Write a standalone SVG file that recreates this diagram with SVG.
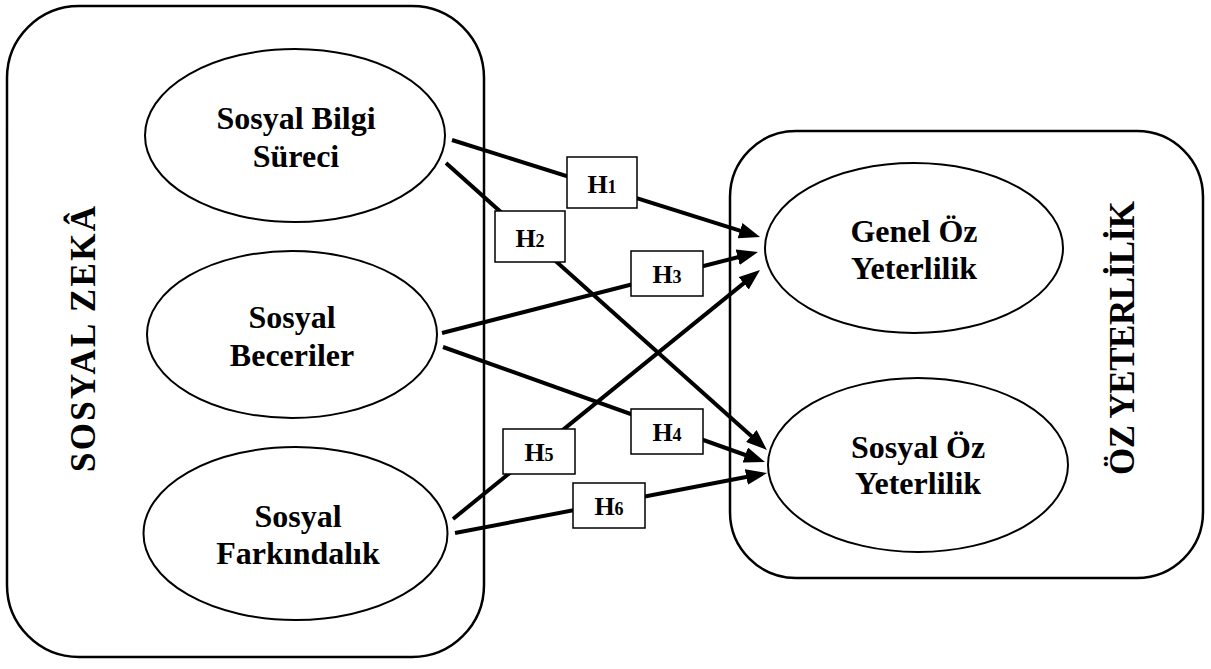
<svg xmlns="http://www.w3.org/2000/svg" width="1211" height="669" viewBox="0 0 1211 669" font-family="'Liberation Serif', 'Times New Roman', Times, 'DejaVu Serif', serif">
<style>
.cont{fill:none;stroke:#000;stroke-width:2.5}
.ell{fill:#fff;stroke:#000;stroke-width:2}
.box{fill:#fff;stroke:#000;stroke-width:1.5}
.lbl{font-family:'Liberation Serif','Times New Roman',Times,'DejaVu Serif',serif;font-weight:bold;font-size:32px;text-anchor:middle;fill:#000}
.big{font-family:'Liberation Serif','Times New Roman',Times,'DejaVu Serif',serif;font-weight:bold;font-size:35px;text-anchor:middle;fill:#000}
.h{font-family:'Liberation Serif','Times New Roman',Times,'DejaVu Serif',serif;font-weight:bold;font-size:26px;text-anchor:middle;fill:#000}
.sub{font-size:18px}
.con{fill:none;stroke:#000;stroke-width:4;marker-end:url(#arr)}
</style>
<defs>
<marker id="arr" markerUnits="userSpaceOnUse" markerWidth="21" markerHeight="16" refX="9" refY="8" orient="auto">
<path d="M0,0 L21,8 L0,16 z" fill="#000"/>
</marker>
</defs>
<rect width="1211" height="669" fill="#fff"/>
<g id="sosyal-zeka">
<rect class="cont" x="7" y="6" width="477" height="651" rx="72" ry="72"/>
<text class="big" transform="translate(95,339) rotate(-90)" textLength="266" lengthAdjust="spacing">SOSYAL ZEKÂ</text>
</g>
<g id="oz-yeterlilik">
<rect class="cont" x="730" y="131" width="473" height="447" rx="66" ry="66"/>
<text class="big" transform="translate(1134,338) rotate(-90)" textLength="274" lengthAdjust="spacing">ÖZ YETERLİLİK</text>
</g>
<g id="connectors">
<line class="con" x1="452" y1="140" x2="748.6" y2="233.4"/>
<line class="con" x1="446" y1="163" x2="758" y2="442"/>
<line class="con" x1="442" y1="333" x2="746.4" y2="255"/>
<line class="con" x1="443" y1="347" x2="753.7" y2="458"/>
<line class="con" x1="453" y1="519" x2="750.7" y2="277.6"/>
<line class="con" x1="455" y1="533" x2="755.2" y2="475.3"/>
</g>
<g id="sosyal-bilgi-sureci">
<ellipse class="ell" cx="295" cy="135.5" rx="150" ry="86.5"/>
<text class="lbl" x="296" y="129">Sosyal Bilgi</text>
<text class="lbl" x="296" y="167">Süreci</text>
</g>
<g id="sosyal-beceriler">
<ellipse class="ell" cx="292" cy="334.5" rx="145" ry="83.5"/>
<text class="lbl" x="292" y="328">Sosyal</text>
<text class="lbl" x="292" y="366">Beceriler</text>
</g>
<g id="sosyal-farkindalik">
<ellipse class="ell" cx="295.5" cy="533.5" rx="152" ry="86.5"/>
<text class="lbl" x="298" y="527">Sosyal</text>
<text class="lbl" x="298" y="564">Farkındalık</text>
</g>
<g id="genel-oz-yeterlilik">
<ellipse class="ell" cx="914" cy="248" rx="149" ry="85"/>
<text class="lbl" x="914" y="242">Genel Öz</text>
<text class="lbl" x="914" y="279">Yeterlilik</text>
</g>
<g id="sosyal-oz-yeterlilik">
<ellipse class="ell" cx="918" cy="465" rx="150" ry="87"/>
<text class="lbl" x="918" y="458">Sosyal Öz</text>
<text class="lbl" x="918" y="494">Yeterlilik</text>
</g>
<g id="h1">
<rect class="box" x="567" y="157" width="70" height="51"/>
<text class="h" x="602" y="193">H<tspan class="sub">1</tspan></text>
</g>
<g id="h2">
<rect class="box" x="495" y="211" width="70" height="51"/>
<text class="h" x="530" y="247">H<tspan class="sub">2</tspan></text>
</g>
<g id="h3">
<rect class="box" x="631" y="251" width="72" height="45"/>
<text class="h" x="667" y="283">H<tspan class="sub">3</tspan></text>
</g>
<g id="h4">
<rect class="box" x="631" y="409" width="72" height="45"/>
<text class="h" x="667" y="441">H<tspan class="sub">4</tspan></text>
</g>
<g id="h5">
<rect class="box" x="503" y="429" width="72" height="45"/>
<text class="h" x="539" y="461">H<tspan class="sub">5</tspan></text>
</g>
<g id="h6">
<rect class="box" x="573" y="483" width="72" height="45"/>
<text class="h" x="609" y="515">H<tspan class="sub">6</tspan></text>
</g>
</svg>
